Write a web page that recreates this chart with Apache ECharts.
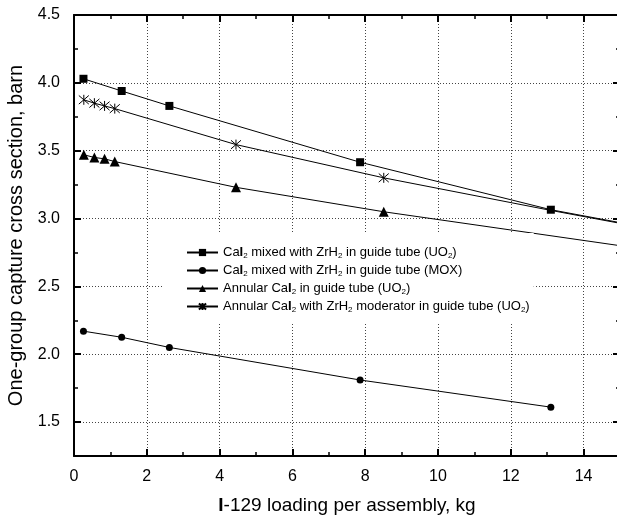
<!DOCTYPE html>
<html>
<head>
<meta charset="utf-8">
<script src="https://cdn.jsdelivr.net/npm/echarts@6/dist/echarts.min.js"></script>
<style>
  html, body { margin: 0; padding: 0; background: #fff; }
  #chart { width: 617px; height: 518px; }
</style>
</head>
<body>
<div id="chart"></div>
<script>
// I-129 loading per assembly (kg) at each computed point
const xMixed = [0.26, 1.31, 2.62, 7.86, 13.1];
const xAnnular = [0.27, 0.56, 0.84, 1.12, 4.45, 8.51];

// One-group capture cross sections (barn)
const mixedUO2 = [4.03, 3.94, 3.83, 3.415, 3.065];
const mixedMOX = [2.17, 2.125, 2.05, 1.81, 1.61];
const annularUO2 = [3.47, 3.45, 3.44, 3.42, 3.23, 3.05];
const annularZrH2 = [3.875, 3.85, 3.83, 3.81, 3.545, 3.30];

// Trend-line continuations past the last computed point: [x, y]
const mixedUO2Trend = [[15, 2.97]];
const annularUO2Trend = [[15, 2.80]];
const annularZrH2Trend = [[13.1, 3.06], [15, 2.965]];

// Axis ticks
const xMajorTicks = [0, 2, 4, 6, 8, 10, 12, 14];
const xMinorTicks = [1, 3, 5, 7, 9, 11, 13, 15];
const yMajorTicks = [1.5, 2.0, 2.5, 3.0, 3.5, 4.0, 4.5];
const yMinorTicks = [1.25, 1.75, 2.25, 2.75, 3.25, 3.75, 4.25];

const seriesNames = [
  'CaI2 mixed with ZrH2 in guide tube (UO2)',
  'CaI2 mixed with ZrH2 in guide tube (MOX)',
  'Annular CaI2 in guide tube (UO2)',
  'Annular CaI2 with ZrH2 moderator in guide tube (UO2)'
];

const FONT = '"Liberation Sans", Arial, Helvetica, sans-serif';
const X_RANGE = [0, 15];
const Y_RANGE = [1.25, 4.5];

function points(xs, ys, trend) {
  const pts = xs.map((x, i) => [x, ys[i]]);
  (trend || []).forEach(p => pts.push({ value: p, symbol: 'none' }));
  return pts;
}

// Legend label: bold iodine symbol and subscript digits
function richName(name) {
  return name
    .replace(/CaI2/g, 'Ca{b|I}{s|2}')
    .replace(/ZrH2/g, 'ZrH{s|2}')
    .replace(/UO2/g, 'UO{s|2}');
}

const ASTERISK = 'path://M0,-5L0,5M-4.3,-4.3L4.3,4.3M-4.3,4.3L4.3,-4.3';

function tickAxis(base, extra) {
  return Object.assign({
    type: 'value',
    min: base.min, max: base.max,
    axisLine: { show: false, onZero: false },
    axisLabel: { show: false },
    splitLine: { show: false },
    axisTick: { show: true, inside: true }
  }, extra);
}

const xBase = { min: X_RANGE[0], max: X_RANGE[1] };
const yBase = { min: Y_RANGE[0], max: Y_RANGE[1] };

const gridLine = { show: true, lineStyle: { color: '#444', width: 1, type: [1, 2] } };
const frameLine = { show: true, onZero: false, lineStyle: { color: '#000', width: 2 } };

const option = {
  backgroundColor: '#fff',
  animation: false,
  grid: { left: 74, top: 15, width: 546, height: 441, containLabel: false, outerBoundsMode: 'none' },
  xAxis: [
    tickAxis(xBase, {
      position: 'bottom',
      axisLine: frameLine,
      name: '{b|I}-129 loading per assembly, kg',
      nameLocation: 'middle',
      nameGap: 40,
      nameTextStyle: {
        fontFamily: FONT, fontSize: 19, color: '#000',
        rich: { b: { fontFamily: FONT, fontSize: 19, fontWeight: 'bold', color: '#000' } }
      },
      axisLabel: {
        show: true, customValues: xMajorTicks, margin: 13,
        fontFamily: FONT, fontSize: 16, color: '#000'
      },
      axisTick: { show: true, inside: true, customValues: xMajorTicks, length: 7, lineStyle: { width: 2, color: '#000' } },
      splitLine: gridLine
    }),
    tickAxis(xBase, {
      position: 'bottom',
      axisTick: { show: true, inside: true, customValues: xMinorTicks, length: 4, lineStyle: { width: 1.5, color: '#000' } }
    }),
    tickAxis(xBase, {
      position: 'top',
      axisLine: frameLine,
      axisTick: { show: true, inside: true, customValues: xMajorTicks, length: 7, lineStyle: { width: 2, color: '#000' } }
    }),
    tickAxis(xBase, {
      position: 'top',
      axisTick: { show: true, inside: true, customValues: xMinorTicks, length: 4, lineStyle: { width: 1.5, color: '#000' } }
    })
  ],
  yAxis: [
    tickAxis(yBase, {
      position: 'left',
      axisLine: frameLine,
      name: 'One-group capture cross section, barn',
      nameLocation: 'middle',
      nameGap: 46,
      nameTextStyle: { fontFamily: FONT, fontSize: 20, color: '#000' },
      axisLabel: {
        show: true, customValues: yMajorTicks, margin: 14,
        fontFamily: FONT, fontSize: 16, color: '#000',
        formatter: v => v.toFixed(1)
      },
      axisTick: { show: true, inside: true, customValues: yMajorTicks, length: 7, lineStyle: { width: 2, color: '#000' } },
      splitLine: gridLine
    }),
    tickAxis(yBase, {
      position: 'left',
      axisTick: { show: true, inside: true, customValues: yMinorTicks, length: 4, lineStyle: { width: 1.5, color: '#000' } }
    }),
    tickAxis(yBase, {
      position: 'right',
      axisLine: frameLine,
      axisTick: { show: true, inside: true, customValues: yMajorTicks, length: 7, lineStyle: { width: 2, color: '#000' } }
    }),
    tickAxis(yBase, {
      position: 'right',
      axisTick: { show: true, inside: true, customValues: yMinorTicks, length: 4, lineStyle: { width: 1.5, color: '#000' } }
    })
  ],
  legend: {
    orient: 'vertical',
    left: 164,
    top: 233,
    backgroundColor: '#fff',
    padding: [12, 4, 8, 22],
    itemGap: 3,
    itemWidth: 31,
    itemHeight: 9,
    data: seriesNames,
    formatter: richName,
    textStyle: {
      fontFamily: FONT, fontSize: 13, color: '#000', lineHeight: 15,
      rich: {
        b: { fontFamily: FONT, fontSize: 13, fontWeight: 'bold', color: '#000', lineHeight: 15 },
        s: { fontFamily: FONT, fontSize: 8, color: '#000', verticalAlign: 'bottom', lineHeight: 9, padding: [7, 0, 0, 0] }
      }
    }
  },
  series: [
    {
      name: seriesNames[0], type: 'line', xAxisIndex: 0, yAxisIndex: 0,
      data: points(xMixed, mixedUO2, mixedUO2Trend),
      symbol: 'rect', symbolSize: 8,
      lineStyle: { color: '#000', width: 1 },
      itemStyle: { color: '#000' }
    },
    {
      name: seriesNames[1], type: 'line', xAxisIndex: 0, yAxisIndex: 0,
      data: points(xMixed, mixedMOX),
      symbol: 'circle', symbolSize: 7,
      lineStyle: { color: '#000', width: 1 },
      itemStyle: { color: '#000' }
    },
    {
      name: seriesNames[2], type: 'line', xAxisIndex: 0, yAxisIndex: 0,
      data: points(xAnnular, annularUO2, annularUO2Trend),
      symbol: 'triangle', symbolSize: 10,
      lineStyle: { color: '#000', width: 1 },
      itemStyle: { color: '#000' }
    },
    {
      name: seriesNames[3], type: 'line', xAxisIndex: 0, yAxisIndex: 0,
      data: points(xAnnular, annularZrH2, annularZrH2Trend),
      symbol: ASTERISK, symbolSize: 10,
      lineStyle: { color: '#000', width: 1 },
      itemStyle: { color: '#000', borderColor: '#000', borderWidth: 1 }
    }
  ]
};

const chart = echarts.init(document.getElementById('chart'), null, { renderer: 'canvas' });
chart.setOption(option);
</script>
</body>
</html>
